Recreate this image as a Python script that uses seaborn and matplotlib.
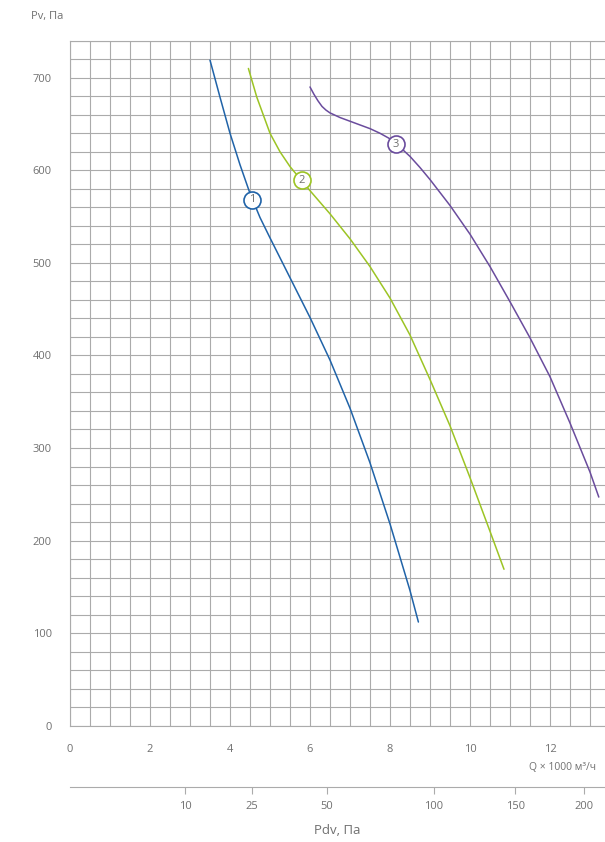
import numpy as np
import pandas as pd
import matplotlib
matplotlib.use("Agg")
import matplotlib.pyplot as plt
import seaborn as sns

# Fan curves: Q (x 1000 m3/h) vs static pressure Pv (Pa)
q1 = [3.5, 3.75, 4.0, 4.25, 4.5, 4.75, 5.0, 5.5, 6.0, 6.5, 7.0, 7.5, 8.0, 8.5, 8.71]
p1 = [719, 679, 640, 606, 575, 549, 527, 484, 441, 395, 343, 284, 218, 146, 112]

q2 = [4.46, 4.67, 5.0, 5.25, 5.5, 6.0, 6.5, 7.0, 7.5, 8.0, 8.5, 9.0, 9.5, 10.0, 10.5, 10.85]
p2 = [710, 679, 640, 620, 604, 578, 553, 526, 496, 462, 422, 374, 324, 268, 210, 169]

q3 = [6.0, 6.1, 6.2, 6.3, 6.4, 6.5, 6.75, 7.0, 7.5, 7.75, 8.0, 8.25, 8.5, 8.75,
      9.0, 9.5, 10.0, 10.5, 11.0, 11.5, 12.0, 12.5, 13.0, 13.22]
p3 = [690, 682, 675, 669, 665, 662, 657, 653, 645, 640, 634, 625, 615, 603,
      590, 562, 531, 496, 458, 419, 377, 327, 274, 247]

# numbered circle labels sitting on each curve
label_names = ["1", "2", "3"]
label_q = [4.56, 5.79, 8.15]
label_p = [568, 589, 628]

# Q ticks and the dynamic pressure scale under the chart: Pdv ~ K * Q^2
q_ticks = [0, 2, 4, 6, 8, 10, 12]
pdv_ticks = [10, 25, 50, 100, 150, 200]
PDV_K = 1.21

colors = {"1": "#2063a8", "2": "#9cc424", "3": "#6a4c9d"}
GRID = "#ababab"
TEXT = "#707070"

sns.set_style("white")
plt.rcParams["font.family"] = ["Open Sans", "DejaVu Sans"]

df = pd.concat([
    pd.DataFrame({"Q": q1, "Pv": p1, "curve": "1"}),
    pd.DataFrame({"Q": q2, "Pv": p2, "curve": "2"}),
    pd.DataFrame({"Q": q3, "Pv": p3, "curve": "3"}),
])

fig = plt.figure(figsize=(6.05, 8.42), dpi=100)
# right edge runs past the picture, like the cropped original
ax = fig.add_axes([70 / 605, (842 - 725.7) / 842, 560 / 605, 685 / 842])

sns.lineplot(data=df, x="Q", y="Pv", hue="curve", palette=colors, sort=False,
             estimator=None, linewidth=1.1, legend=False, ax=ax, zorder=3)

for name, q, p in zip(label_names, label_q, label_p):
    ax.scatter(q, p, s=150, facecolor="white", edgecolor=colors[name],
               linewidth=1.2, zorder=4)
    ax.text(q, p, name, ha="center", va="center", fontsize=8, color=TEXT, zorder=5)

ax.set_xlim(0, 14)
ax.set_ylim(0, 740)
ax.set_xticks(q_ticks)
ax.set_xticks(np.arange(0, 14.1, 0.5), minor=True)
ax.set_yticks(np.arange(0, 701, 100))
ax.set_yticks(np.arange(0, 741, 20), minor=True)
ax.set_xticklabels([str(v) for v in q_ticks])
ax.grid(which="both", color=GRID, linewidth=0.8, zorder=0)
ax.set_axisbelow(True)
ax.tick_params(which="major", direction="out", length=7, width=0.8, color=GRID,
               labelsize=8, labelcolor=TEXT, pad=6)
ax.tick_params(which="minor", length=0)
ax.xaxis.get_major_ticks()[0].tick1line.set_visible(False)
ax.yaxis.get_major_ticks()[0].tick1line.set_visible(False)
for side in ["left", "bottom", "top", "right"]:
    ax.spines[side].set_color(GRID)
    ax.spines[side].set_linewidth(0.8)
ax.set_xlabel("")
ax.set_ylabel("")


def q_to_pdv(q):
    return PDV_K * np.asarray(q) ** 2


def pdv_to_q(p):
    return np.sqrt(np.maximum(np.asarray(p, dtype=float), 0) / PDV_K)


sec = ax.secondary_xaxis(-0.0895, functions=(q_to_pdv, pdv_to_q))
sec.set_xticks(pdv_ticks)
sec.set_xticklabels([str(v) for v in pdv_ticks])
sec.spines["bottom"].set_color(GRID)
sec.spines["bottom"].set_linewidth(0.8)
sec.tick_params(direction="out", length=5, width=0.8, color=GRID,
                labelsize=8, labelcolor=TEXT, pad=5)

fig.text(31 / 605, 1 - 16 / 842, "Pv, Па", fontsize=8, color=TEXT, va="center", ha="left")
fig.text(529 / 605, 1 - 768 / 842, "Q × 1000 м³/ч", fontsize=7.5, color=TEXT,
         va="center", ha="left")
fig.text(337 / 605, 1 - 830 / 842, "Pdv, Па", fontsize=9.5, color=TEXT,
         va="center", ha="center")

fig.savefig("out.png", dpi=100)
plt.close(fig)
